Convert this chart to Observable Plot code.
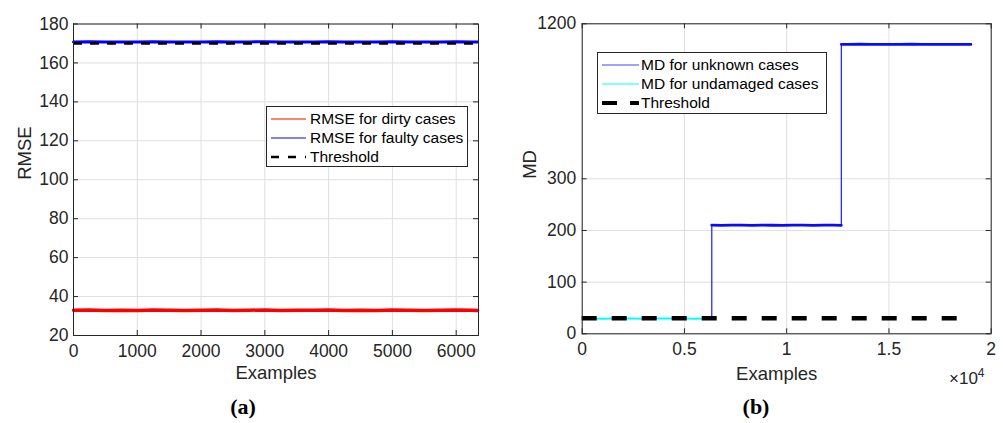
<!DOCTYPE html>
<html>
<head>
<meta charset="utf-8">
<script src="https://cdn.jsdelivr.net/npm/d3@7"></script>
<script src="https://cdn.jsdelivr.net/npm/@observablehq/plot@0.6"></script>
<style>
  body { margin: 0; background: #fff; }
  #wrap { position: relative; width: 1003px; height: 423px; overflow: hidden; background: #fff;
          font-family: "Liberation Sans", Arial, sans-serif; color: #262626; }
  .panel { position: absolute; top: 0; }
  .legend { position: absolute; background: #fff; border: 1px solid #262626; box-sizing: border-box;
            font-size: 15.5px; color: #000; }
  .legend .row { position: absolute; left: 0; height: 19px; line-height: 19px; white-space: nowrap; }
  .legend svg { position: absolute; top: 0; }
  .cap { position: absolute; font-family: "Liberation Serif", "DejaVu Serif", serif; font-weight: bold;
         font-size: 22px; color: #000; transform: translateX(-50%); }
  .sci { position: absolute; font-size: 17px; color: #262626; }
</style>
</head>
<body>
<div id="wrap"></div>
<script>
// ---------- Panel (a): RMSE ----------
const rmseExamples = [0, 250, 500, 750, 1000, 1250, 1500, 1750, 2000, 2250, 2500, 2750, 3000, 3250,
  3500, 3750, 4000, 4250, 4500, 4750, 5000, 5250, 5500, 5750, 6000, 6250, 6336];
const rmseDirty = [33.0, 33.1, 32.9, 33.0, 32.9, 33.1, 33.0, 32.9, 33.0, 33.1, 32.9, 33.0, 33.1, 32.9,
  33.0, 33.0, 33.1, 32.9, 33.0, 32.9, 33.1, 33.0, 32.9, 33.0, 33.1, 33.0, 32.9];
const rmseFaulty = [170.8, 170.9, 170.7, 170.8, 170.8, 170.9, 170.8, 170.7, 170.8, 170.9, 170.7, 170.8,
  170.9, 170.7, 170.8, 170.8, 170.9, 170.7, 170.8, 170.7, 170.9, 170.8, 170.7, 170.8, 170.9, 170.8, 170.7];
const rmseThreshold = 170;
const rmseXTicks = [0, 1000, 2000, 3000, 4000, 5000, 6000];
const rmseYTicks = [20, 40, 60, 80, 100, 120, 140, 160, 180];
const rmseXDomain = [0, 6350];
const rmseYDomain = [20, 180];

// ---------- Panel (b): MD ----------
const undamagedExamples = [0, 500, 1000, 1500, 2000, 2500, 3000, 3500, 4000, 4500, 5000, 5500, 6000, 6336];
const undamagedMD = [29.4, 29.6, 29.3, 29.5, 29.4, 29.6, 29.3, 29.5, 29.4, 29.6, 29.5, 29.3, 29.5, 29.4];
const unknownExamples = [6336, 6336, 6800, 7300, 7800, 8300, 8800, 9300, 9800, 10300, 10800, 11300, 11800,
  12300, 12672, 12672, 13100, 13600, 14100, 14600, 15100, 15600, 16100, 16600, 17100, 17600, 18100, 18600, 19008];
const unknownMD = [29.4, 210.3, 210.0, 210.4, 210.2, 209.9, 210.5, 210.1, 210.0, 210.4, 210.2, 209.9, 210.3,
  210.2, 210.0, 1081, 1080, 1082, 1081, 1080, 1081, 1080, 1082, 1081, 1080, 1081, 1080, 1081, 1080];
const unknownSegment = [0, 1, 1, 1, 1, 1, 1, 1, 1, 1, 1, 1, 1, 1, 1, 2, 2, 2, 2, 2, 2, 2, 2, 2, 2, 2, 2, 2, 2];
const mdThreshold = 30;
const mdThresholdExamples = [0, 19008];
const mdXTicks = [0, 5000, 10000, 15000, 20000];
const mdYTicks = [0, 100, 200, 300, 1200];
const mdXDomain = [0, 20000];
const mdYDomain = [0, 300, 1200];

const FONT = "Liberation Sans, Arial, sans-serif";
const TXT = "#262626";
const GRID = "#dfdfdf";
const plain = d => String(d);

const rmseData = rmseExamples.map((x, i) => ({x, dirty: rmseDirty[i], faulty: rmseFaulty[i]}));
const undamagedData = undamagedExamples.map((x, i) => ({x, y: undamagedMD[i]}));
const unknownData = unknownExamples.map((x, i) => ({x, y: unknownMD[i], seg: unknownSegment[i]}));

function innerTicks(xTicks, yTicks, W, H) {
  const L = 5;
  return [
    Plot.tickX(xTicks, {x: d => d, insetTop: H - L, stroke: TXT, strokeWidth: 1}),
    Plot.tickX(xTicks, {x: d => d, insetBottom: H - L, stroke: TXT, strokeWidth: 1}),
    Plot.tickY(yTicks, {y: d => d, insetRight: W - L, stroke: TXT, strokeWidth: 1}),
    Plot.tickY(yTicks, {y: d => d, insetLeft: W - L, stroke: TXT, strokeWidth: 1})
  ];
}

// Panel (a)
const aM = {left: 73, right: 22, top: 23.5, bottom: 88};
const aW = 500 - aM.left - aM.right, aH = 423 - aM.top - aM.bottom;
const plotA = Plot.plot({
  width: 500, height: 423,
  marginLeft: aM.left, marginRight: aM.right, marginTop: aM.top, marginBottom: aM.bottom,
  style: {fontFamily: FONT, fontSize: "17.5px", color: TXT, background: "transparent", overflow: "visible"},
  x: {domain: rmseXDomain},
  y: {domain: rmseYDomain},
  marks: [
    Plot.gridX(rmseXTicks, {stroke: GRID, strokeOpacity: 1}),
    Plot.gridY(rmseYTicks, {stroke: GRID, strokeOpacity: 1}),
    Plot.axisX(rmseXTicks, {tickSize: 0, tickPadding: 9, fontSize: 17.5, fill: TXT, label: null, tickFormat: plain}),
    Plot.axisY(rmseYTicks, {tickSize: 0, tickPadding: 5, fontSize: 17.5, fill: TXT, label: null, tickFormat: plain}),
    Plot.line(rmseData, {x: "x", y: "dirty", stroke: "#ff0000", strokeWidth: 3.5}),
    Plot.line(rmseData, {x: "x", y: "faulty", stroke: "#0000ff", strokeWidth: 3}),
    Plot.ruleY([rmseThreshold], {stroke: "#000", strokeWidth: 2.5, strokeDasharray: "9,8"}),
    ...innerTicks(rmseXTicks, rmseYTicks, aW, aH),
    Plot.frame({stroke: TXT, strokeWidth: 1}),
    Plot.text(["Examples"], {frameAnchor: "bottom", dy: 38, fontSize: 18.5, fill: TXT, lineAnchor: "middle"}),
    Plot.text(["RMSE"], {frameAnchor: "left", dx: -48, rotate: -90, fontSize: 18.5, fill: TXT, lineAnchor: "middle"})
  ]
});

// Panel (b)
const bM = {left: 81.7, right: 12.3, top: 23.3, bottom: 89.7};
const bW = 503 - bM.left - bM.right, bH = 423 - bM.top - bM.bottom;
const plotB = Plot.plot({
  width: 503, height: 423,
  marginLeft: bM.left, marginRight: bM.right, marginTop: bM.top, marginBottom: bM.bottom,
  style: {fontFamily: FONT, fontSize: "17.5px", color: TXT, background: "transparent", overflow: "visible"},
  x: {domain: mdXDomain},
  y: {type: "linear", domain: mdYDomain},
  marks: [
    Plot.gridX(mdXTicks, {stroke: GRID, strokeOpacity: 1}),
    Plot.gridY(mdYTicks, {stroke: GRID, strokeOpacity: 1}),
    Plot.axisX(mdXTicks, {tickSize: 0, tickPadding: 9, fontSize: 17.5, fill: TXT, label: null, tickFormat: d => String(d / 1e4)}),
    Plot.axisY(mdYTicks, {tickSize: 0, tickPadding: 6, fontSize: 17.5, fill: TXT, label: null, tickFormat: plain}),
    Plot.line(undamagedData, {x: "x", y: "y", stroke: "#00ffff", strokeWidth: 2}),
    Plot.line(unknownData, {x: "x", y: "y", stroke: "#2a2aff", strokeWidth: 1.3}),
    Plot.line(unknownData.filter(d => d.seg > 0), {x: "x", y: "y", z: "seg", stroke: "#0a0aff", strokeWidth: 2.8}),
    Plot.ruleY([mdThreshold], {x1: mdThresholdExamples[0], x2: mdThresholdExamples[1], stroke: "#000", strokeWidth: 4.5, strokeDasharray: "15,15"}),
    ...innerTicks(mdXTicks, mdYTicks, bW, bH),
    Plot.frame({stroke: TXT, strokeWidth: 1}),
    Plot.text(["Examples"], {frameAnchor: "bottom", dx: -10, dy: 40, fontSize: 18.5, fill: TXT, lineAnchor: "middle"}),
    Plot.text(["MD"], {frameAnchor: "left", dx: -52, rotate: -90, fontSize: 18.5, fill: TXT, lineAnchor: "middle"})
  ]
});

const wrap = document.getElementById("wrap");
const pa = document.createElement("div"); pa.className = "panel"; pa.style.left = "0px"; pa.appendChild(plotA);
const pb = document.createElement("div"); pb.className = "panel"; pb.style.left = "500px"; pb.appendChild(plotB);
wrap.appendChild(pa); wrap.appendChild(pb);

function legend(left, top, width, height, items, sampleLeft, sampleW, textLeft) {
  const box = document.createElement("div");
  box.className = "legend";
  Object.assign(box.style, {left: left + "px", top: top + "px", width: width + "px", height: height + "px"});
  items.forEach((it, i) => {
    const row = document.createElement("div");
    row.className = "row";
    row.style.top = (2 + i * 19) + "px";
    row.style.width = "100%";
    row.innerHTML = `<svg width="${sampleW + 4}" height="19" style="left:${sampleLeft}px">
      <line x1="0" x2="${sampleW}" y1="10" y2="10" stroke="${it.color}" stroke-width="${it.width}" ${it.dash ? `stroke-dasharray="${it.dash}"` : ""}/></svg>
      <span style="position:absolute;left:${textLeft}px;top:0">${it.label}</span>`;
    box.appendChild(row);
  });
  wrap.appendChild(box);
}

legend(266, 106, 202, 61, [
  {label: "RMSE for dirty cases", color: "#ff0000", width: 1},
  {label: "RMSE for faulty cases", color: "#0000ff", width: 1},
  {label: "Threshold", color: "#000", width: 2.5, dash: "8,9"}
], 4, 35, 43);

legend(597, 52, 230, 62, [
  {label: "MD for unknown cases", color: "#4040ff", width: 1},
  {label: "MD for undamaged cases", color: "#00ffff", width: 1},
  {label: "Threshold", color: "#000", width: 4, dash: "15,13"}
], 4, 37, 43);

const sci = document.createElement("div");
sci.className = "sci";
sci.style.left = "949px"; sci.style.top = "366px";
sci.innerHTML = "×10<sup style='font-size:12px;vertical-align:7px'>4</sup>";
wrap.appendChild(sci);

[["(a)", 243], ["(b)", 756]].forEach(([t, x]) => {
  const c = document.createElement("div");
  c.className = "cap"; c.textContent = t;
  c.style.left = x + "px"; c.style.top = "394px";
  wrap.appendChild(c);
});
</script>
</body>
</html>
